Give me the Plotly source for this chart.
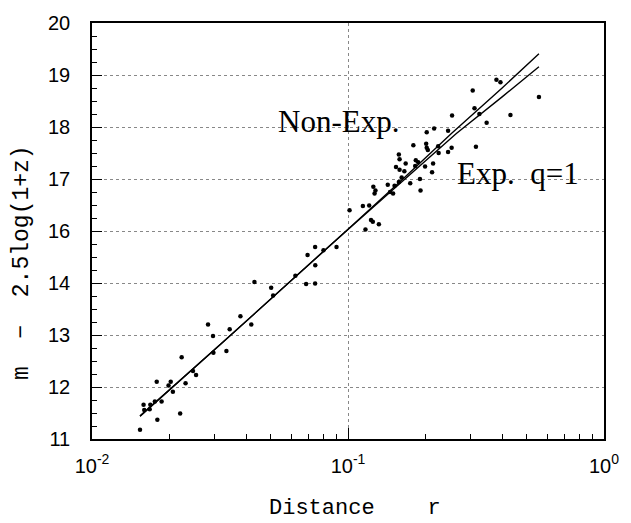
import plotly.graph_objects as go

# Scatter data: distance r and magnitude position on the (as-printed) vertical axis
r_pts = [0.307, 0.380, 0.394, 0.557, 0.312, 0.255, 0.326, 0.431, 0.348, 0.203, 0.217, 0.246,
         0.180, 0.202, 0.203, 0.205, 0.225, 0.254, 0.316, 0.226, 0.246, 0.158, 0.159, 0.168,
         0.184, 0.188, 0.183, 0.200, 0.215, 0.154, 0.159, 0.166, 0.213, 0.191, 0.192, 0.175,
         0.162, 0.158, 0.143, 0.1256, 0.128, 0.127, 0.146, 0.150, 0.152, 0.1143, 0.121, 0.1014,
         0.123, 0.125, 0.132, 0.117,
         0.0695, 0.0744, 0.0802, 0.0902, 0.0745, 0.0623, 0.0686, 0.0744, 0.0431, 0.0501, 0.051,
         0.038, 0.0284, 0.0419, 0.0297, 0.0345, 0.0335,
         0.0298, 0.0224, 0.0248, 0.0255, 0.0232, 0.0199, 0.0203, 0.0207, 0.0179, 0.0187, 0.0176,
         0.0169, 0.0168, 0.0159, 0.0160, 0.0221, 0.0180, 0.0154]
m_pts = [18.70, 18.91, 18.86, 18.575, 18.36, 18.22, 18.25, 18.23, 18.08, 17.90, 17.97, 17.93,
         17.65, 17.68, 17.60, 17.56, 17.63, 17.60, 17.62, 17.50, 17.52, 17.47, 17.38, 17.30,
         17.36, 17.32, 17.25, 17.24, 17.30, 17.23, 17.18, 17.15, 17.13, 17.00, 16.78, 16.92,
         17.03, 16.94, 16.89, 16.85, 16.78, 16.72, 16.75, 16.72, 16.87, 16.48, 16.49, 16.40,
         16.21, 16.18, 16.13, 16.03,
         15.54, 15.69, 15.63, 15.69, 15.34, 15.14, 14.98, 14.99, 15.02, 14.91, 14.76,
         14.36, 14.20, 14.20, 13.98, 14.11, 13.69,
         13.66, 13.57, 13.31, 13.23, 13.07, 13.03, 13.10, 12.91, 13.10, 12.72, 12.72,
         12.66, 12.57, 12.66, 12.56, 12.49, 12.37, 12.18]

# Model curves
r_nonexp = [0.0154, 0.0321, 0.0943, 0.16, 0.2535, 0.40, 0.557]
m_nonexp = [12.44, 13.84, 15.92, 16.95, 17.875, 18.75, 19.41]
r_exp = [0.0154, 0.0321, 0.0943, 0.16, 0.265, 0.40, 0.557]
m_exp = [12.44, 13.84, 15.92, 16.92, 17.875, 18.58, 19.16]

# Axis ticks (labels exactly as printed on the figure)
y_tickvals = [12, 13, 14, 15, 16, 17, 18, 19, 20]
y_ticktext = ["11", "12", "13", "14", "16", "17", "18", "19", "20"]
y_minor = [v / 4 for v in range(48, 81) if v % 4 != 0]
x_tickvals = [0.01, 0.1, 1]
x_ticktext = ["10<sup>-2</sup>", "10<sup>-1</sup>", "10<sup>0</sup>"]
x_minor = [k * 0.01 for k in range(2, 10)] + [k * 0.1 for k in range(2, 10)]

fig = go.Figure()
fig.add_trace(go.Scatter(x=r_nonexp, y=m_nonexp, mode="lines",
                         line=dict(color="black", width=1.4), showlegend=False))
fig.add_trace(go.Scatter(x=r_exp, y=m_exp, mode="lines",
                         line=dict(color="black", width=1.4), showlegend=False))
fig.add_trace(go.Scatter(x=r_pts, y=m_pts, mode="markers",
                         marker=dict(color="black", size=4.5), showlegend=False))

fig.add_annotation(x=-1.038, y=18.1, xref="x", yref="y", text="Non-Exp.", showarrow=False,
                   font=dict(family="Liberation Serif", size=31, color="black"))
fig.add_annotation(x=-0.335, y=17.1, xref="x", yref="y", text="Exp.  q=1", showarrow=False,
                   font=dict(family="Liberation Serif", size=31, color="black"))

# Axis titles
fig.add_annotation(x=0.5, y=0, xref="paper", yref="paper", xshift=7, yshift=-69,
                   text="Distance    r",
                   showarrow=False, xanchor="center", yanchor="middle",
                   font=dict(family="Liberation Mono", size=22, color="black"))
fig.add_annotation(x=0, y=0.5, xref="paper", yref="paper", xshift=-70, yshift=-32,
                   text="m  \u2212  2.5log(1+z)", textangle=-90,
                   showarrow=False, xanchor="center", yanchor="middle",
                   font=dict(family="Liberation Mono", size=23, color="black"))

fig.update_xaxes(type="log", range=[-2, 0], tickmode="array", tickvals=x_tickvals,
                 ticktext=x_ticktext, ticks="inside", ticklen=11, tickwidth=1.2,
                 tickcolor="black", showline=True, linecolor="black", linewidth=1.5,
                 mirror=True, showgrid=True, gridcolor="#888", griddash="dot", gridwidth=1,
                 tickfont=dict(family="Liberation Sans", size=20, color="black"),
                 ticklabelstandoff=8,
                 minor=dict(tickvals=x_minor, ticks="inside", ticklen=5, tickcolor="black",
                            showgrid=False))
fig.update_yaxes(range=[12, 20], tickmode="array", tickvals=y_tickvals, ticktext=y_ticktext,
                 ticks="inside", ticklen=10, tickwidth=1.2, tickcolor="black",
                 showline=True, linecolor="black", linewidth=1.5, mirror=True,
                 showgrid=True, gridcolor="#888", griddash="dot", gridwidth=1, zeroline=False,
                 tickfont=dict(family="Liberation Sans", size=20, color="black"),
                 ticklabelstandoff=16,
                 minor=dict(tickvals=y_minor, ticks="inside", ticklen=5, tickcolor="black",
                            showgrid=False))

fig.update_layout(width=631, height=523, margin=dict(l=92, r=19, t=18, b=84),
                  paper_bgcolor="white", plot_bgcolor="white")
fig.write_html("out.html")
